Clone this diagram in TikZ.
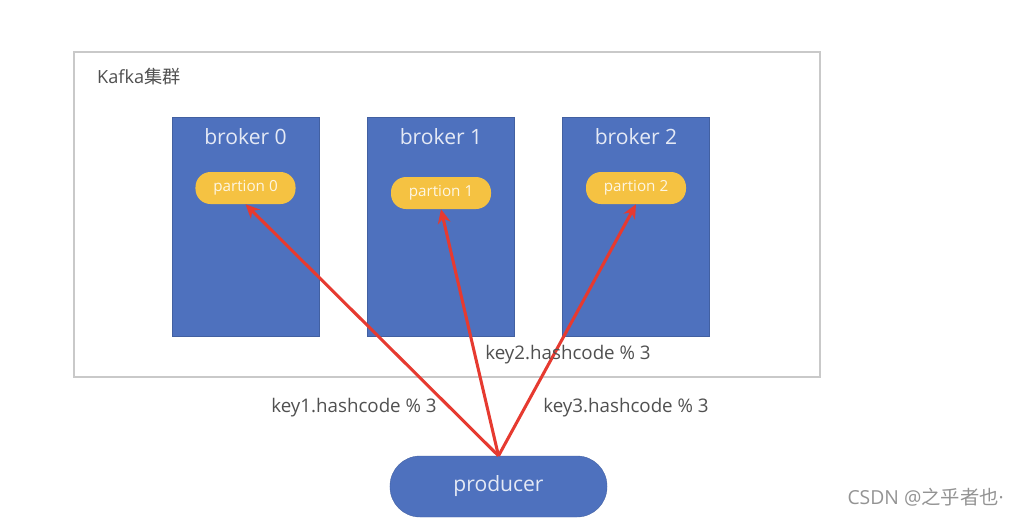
\documentclass[tikz,border=0pt]{standalone}
\usepackage{fontspec}
\setmainfont{Open Sans}
\newfontfamily\cjk{Noto Sans CJK SC}
\usetikzlibrary{arrows.meta}

\definecolor{brokerblue}{HTML}{4E71BE}
\definecolor{partyellow}{HTML}{F5C242}
\definecolor{arrowred}{HTML}{E63A30}
\definecolor{framegray}{HTML}{C9C9C9}
\definecolor{textgray}{HTML}{505050}
\definecolor{lighttext}{HTML}{E4E9F5}

\tikzset{
  clusterbox/.style={draw=framegray, line width=1.2pt, minimum width=22.38cm, minimum height=9.75cm},
  broker/.style={fill=brokerblue, draw=brokerblue!85!black, line width=0.3pt, minimum width=4.41cm, minimum height=6.57cm},
  brokertitle/.style={text=lighttext, font=\fontsize{18}{20}\selectfont},
  partion/.style={fill=partyellow, rounded corners=0.45cm, minimum width=3cm, minimum height=0.96cm, text=white!85!partyellow, font=\fontsize{13}{15}\selectfont},
  producer/.style={fill=brokerblue, draw=brokerblue!85!black, line width=0.3pt, rounded corners=0.9cm, minimum width=6.51cm, minimum height=1.83cm, text=lighttext, font=\fontsize{18}{20}\selectfont},
  keylabel/.style={text=textgray, font=\fontsize{16}{18}\selectfont},
  redarrow/.style={draw=arrowred, line width=2.6pt, -{Stealth[length=12pt,width=11pt]}}
}

\begin{document}
\begin{tikzpicture}[x=0.03cm, y=-0.03cm]
    \useasboundingbox (0,0) rectangle (1022,518);

    % cluster frame
    \node[clusterbox] (cluster) at (447,214.5) {};
    \node[anchor=west, text=textgray, font=\fontsize{15.5}{17}\selectfont] (title) at (93,77) {Kafka{\cjk 集群}};

    % brokers with one partion each
    \foreach \i/\x/\py in {0/245.5/188, 1/441/193, 2/636/188} {
      \node[broker] (b\i) at (\x,226.5) {};
      \node[brokertitle] (t\i) at (\x,137) {broker \i};
      \node[partion] (p\i) at (\x,\py) {partion \i};
    }

    \node[producer] (prod) at (498.5,486.5) {producer};

    \foreach \i in {0,1,2} {
      \draw[redarrow] (prod.north) -- (p\i.south);
    }

    \node[keylabel] (k2) at (568,355) {key2.hashcode \% 3};
    \node[keylabel] (k1) at (354,408) {key1.hashcode \% 3};
    \node[keylabel] (k3) at (626,408) {key3.hashcode \% 3};

    \node[anchor=east, text=gray!85, font=\fontsize{16.5}{18}\selectfont] (mark) at (1008,497) {CSDN @{\cjk 之乎者也}·};
\end{tikzpicture}
\end{document}
